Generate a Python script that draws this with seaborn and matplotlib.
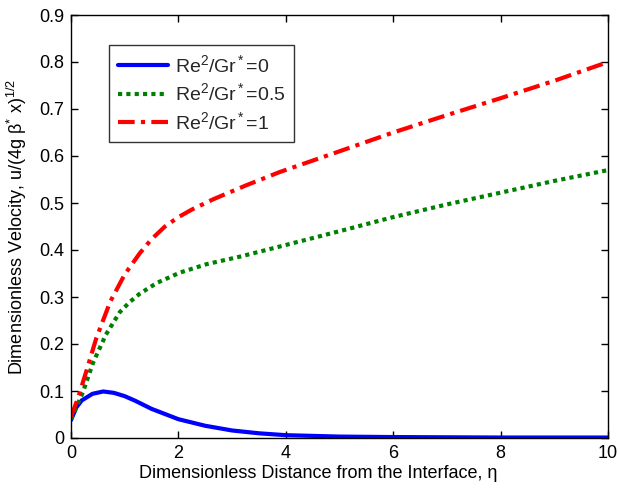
import matplotlib
matplotlib.use("Agg")
import matplotlib.pyplot as plt
import seaborn as sns
import numpy as np

sns.set_theme(style="white")
plt.rcParams['font.family'] = ['Liberation Sans', 'DejaVu Sans']
plt.rcParams['mathtext.fontset'] = 'custom'
plt.rcParams['mathtext.rm'] = 'Liberation Sans'
plt.rcParams['mathtext.it'] = 'Liberation Sans'

x_blue = [0, 0.1, 0.2, 0.4, 0.6, 0.8, 1.0, 1.2, 1.5, 2.0, 2.5, 3.0, 3.5, 4.0, 5.0, 6.0, 8.0, 10.0]
y_blue = [0.038, 0.065, 0.08, 0.094, 0.099, 0.096, 0.089, 0.079, 0.062, 0.04, 0.026, 0.016, 0.01, 0.006, 0.003, 0.002, 0.001, 0.001]

x_green = [0, 0.22, 0.41, 0.65, 0.91, 1.1, 1.28, 1.6, 2.03, 2.53, 3.15, 3.84, 5.0, 6.0, 7.0, 8.0, 9.0, 10.0]
y_green = [0.04, 0.097, 0.16, 0.22, 0.268, 0.29, 0.307, 0.33, 0.352, 0.37, 0.386, 0.406, 0.44, 0.47, 0.497, 0.522, 0.547, 0.57]

x_red = [0, 0.13, 0.28, 0.47, 0.73, 1.0, 1.28, 1.5, 1.75, 2.0, 2.25, 2.65, 3.27, 3.89, 5.0, 6.0, 7.0, 8.0, 9.0, 10.0]
y_red = [0.045, 0.085, 0.14, 0.212, 0.29, 0.348, 0.393, 0.423, 0.45, 0.47, 0.486, 0.508, 0.538, 0.566, 0.61, 0.65, 0.687, 0.723, 0.76, 0.80]

labels = [r'Re$^2$/Gr$^*$=0', r'Re$^2$/Gr$^*$=0.5', r'Re$^2$/Gr$^*$=1']

fig = plt.figure(figsize=(6.2, 4.92), dpi=100)
ax = fig.add_axes([71/620, 54/492, 537/620, 423/492])

sns.lineplot(x=x_blue, y=y_blue, ax=ax, color='#0000ff', lw=3, label=labels[0], estimator=None, sort=False)
sns.lineplot(x=x_green, y=y_green, ax=ax, color='#008000', lw=3, label=labels[1], estimator=None, sort=False)
sns.lineplot(x=x_red, y=y_red, ax=ax, color='#ff0000', lw=3, label=labels[2], estimator=None, sort=False)
ax.lines[1].set_linestyle((0, (1, 1)))
ax.lines[2].set_linestyle((0, (4, 1.5, 1, 1.5)))

ax.set_xlim(0, 10)
ax.set_ylim(0, 0.9)
ax.set_xticks([0, 2, 4, 6, 8, 10])
ax.set_yticks(np.arange(0, 0.91, 0.1))
ax.set_yticklabels(['0', '0.1', '0.2', '0.3', '0.4', '0.5', '0.6', '0.7', '0.8', '0.9'])
ax.tick_params(direction='in', length=5, width=1, labelsize=13, color='black', top=True, right=True,
               bottom=True, left=True, labelcolor='black', pad=5)
for s in ax.spines.values():
    s.set_color('black')
    s.set_linewidth(1)

ax.set_xlabel('Dimensionless Distance from the Interface, η', fontsize=13, color='black')
ax.set_ylabel(r'Dimensionless Velocity, u/(4g β$^{*}$ x)$^{1/2}$', fontsize=13, color='black')
ax.xaxis.set_label_coords(0.46, -0.065)
ax.yaxis.set_label_coords(-0.078, 0.5)

leg = ax.legend(loc='upper left', bbox_to_anchor=(0.0708, 0.929), borderaxespad=0, fontsize=14,
                frameon=True, fancybox=False, handlelength=2.6, handletextpad=0.35,
                borderpad=0.45, labelspacing=0.35)
leg.get_frame().set_edgecolor('black')
leg.get_frame().set_linewidth(1)

fig.savefig('out.png', dpi=100)
